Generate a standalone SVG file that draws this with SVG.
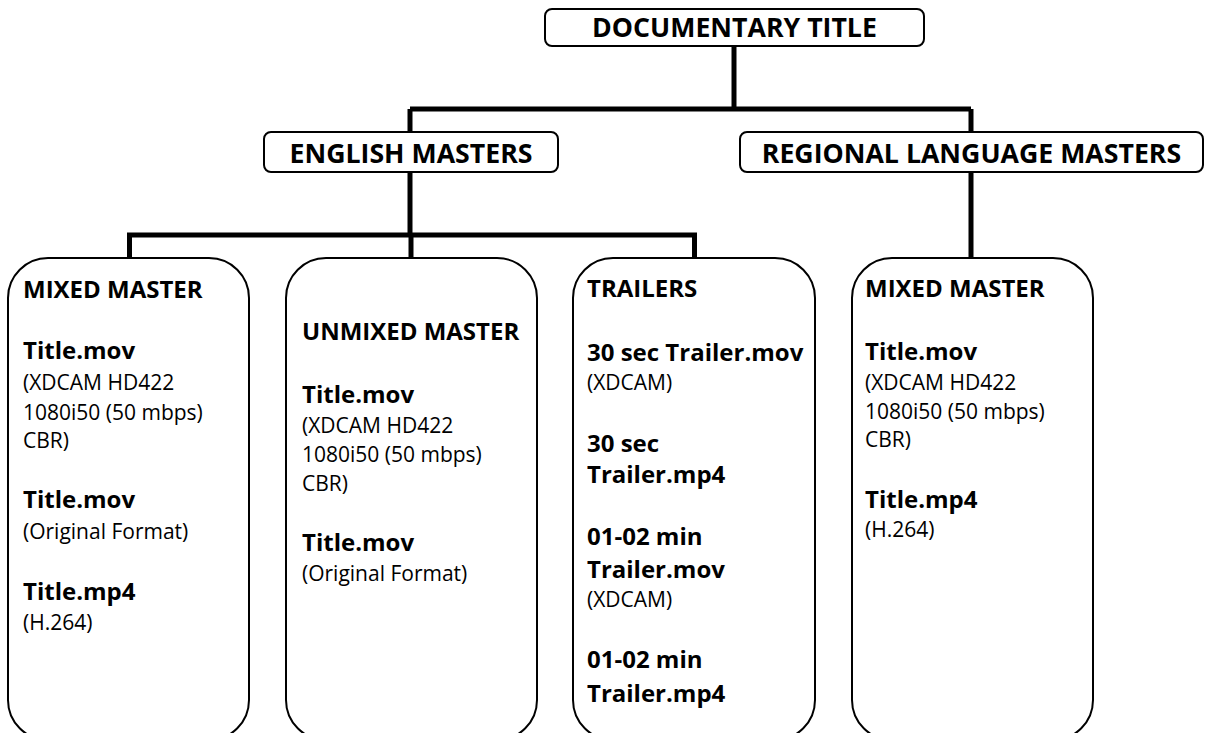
<svg xmlns="http://www.w3.org/2000/svg" width="1208" height="733" viewBox="0 0 1208 733">
<style>
.box{fill:#fff;stroke:#000;stroke-width:2}
.conn{fill:none;stroke:#000;stroke-width:5}
text{font-family:"Open Sans","Liberation Sans",sans-serif;fill:#000}
.hd{font-weight:bold;font-size:26.7px;text-anchor:middle}
.b{font-weight:bold;font-size:24px}
.r{font-size:21px}
</style>
<rect width="1208" height="733" fill="#fff"/>
<g id="connectors">
<path class="conn" d="M734 46V109"/>
<path class="conn" d="M410 109H971"/>
<path class="conn" d="M410 109V235"/>
<path class="conn" d="M971 109V258"/>
<path class="conn" d="M129.5 258V235H694.5V258"/>
<path class="conn" d="M411 235V258"/>
</g>
<g id="documentary-title">
<rect class="box" x="545" y="9" width="379" height="37" rx="7"/>
<text class="hd" x="734.5" y="37">DOCUMENTARY TITLE</text>
</g>
<g id="english-masters">
<rect class="box" x="264" y="132" width="294" height="40" rx="7"/>
<text class="hd" x="411" y="163">ENGLISH MASTERS</text>
</g>
<g id="regional-language-masters">
<rect class="box" x="740" y="132" width="463" height="40" rx="7"/>
<text class="hd" x="971.5" y="163">REGIONAL LANGUAGE MASTERS</text>
</g>
<g id="mixed-master-en">
<rect class="box" x="8" y="258" width="241" height="482" rx="40"/>
<text class="b" x="23" y="298">MIXED MASTER</text>
<text class="b" x="23" y="359">Title.mov</text>
<text class="r" x="23" y="390">(XDCAM HD422</text>
<text class="r" x="23" y="420">1080i50 (50 mbps)</text>
<text class="r" x="23" y="448">CBR)</text>
<text class="b" x="23" y="508">Title.mov</text>
<text class="r" x="23" y="539">(Original Format)</text>
<text class="b" x="23" y="600">Title.mp4</text>
<text class="r" x="23" y="630">(H.264)</text>
</g>
<g id="unmixed-master">
<rect class="box" x="286" y="258" width="251" height="482" rx="40"/>
<text class="b" x="302" y="340">UNMIXED MASTER</text>
<text class="b" x="302" y="403">Title.mov</text>
<text class="r" x="302" y="433">(XDCAM HD422</text>
<text class="r" x="302" y="462">1080i50 (50 mbps)</text>
<text class="r" x="302" y="491">CBR)</text>
<text class="b" x="302" y="551">Title.mov</text>
<text class="r" x="302" y="581">(Original Format)</text>
</g>
<g id="trailers">
<rect class="box" x="573" y="258" width="242" height="482" rx="40"/>
<text class="b" x="587" y="297">TRAILERS</text>
<text class="b" x="587" y="361">30 sec Trailer.mov</text>
<text class="r" x="587" y="390">(XDCAM)</text>
<text class="b" x="587" y="452">30 sec</text>
<text class="b" x="587" y="483">Trailer.mp4</text>
<text class="b" x="587" y="545">01-02 min</text>
<text class="b" x="587" y="578">Trailer.mov</text>
<text class="r" x="587" y="607">(XDCAM)</text>
<text class="b" x="587" y="668">01-02 min</text>
<text class="b" x="587" y="702">Trailer.mp4</text>
</g>
<g id="mixed-master-regional">
<rect class="box" x="852" y="258" width="241" height="482" rx="40"/>
<text class="b" x="865" y="297">MIXED MASTER</text>
<text class="b" x="865" y="360">Title.mov</text>
<text class="r" x="865" y="390">(XDCAM HD422</text>
<text class="r" x="865" y="419">1080i50 (50 mbps)</text>
<text class="r" x="865" y="447">CBR)</text>
<text class="b" x="865" y="508">Title.mp4</text>
<text class="r" x="865" y="537">(H.264)</text>
</g>
</svg>
